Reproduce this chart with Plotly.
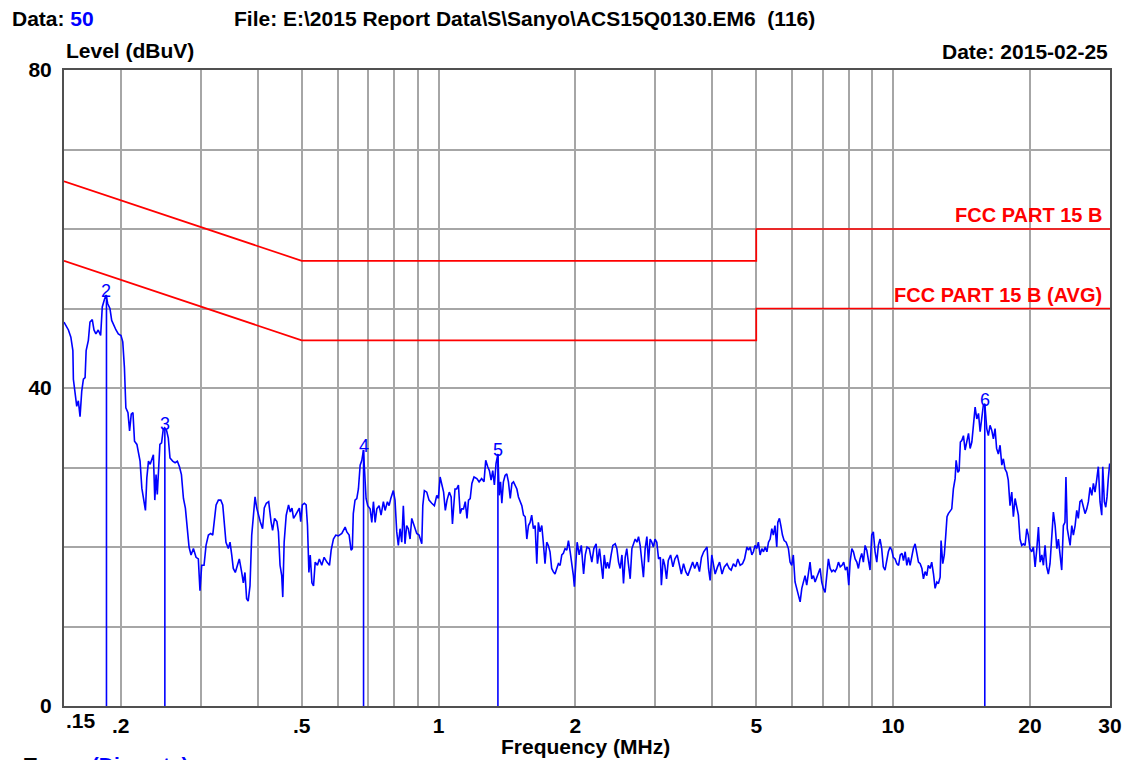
import math
import plotly.graph_objects as go

# ---------------- data ----------------
freq_a = [0.150,0.1534,0.1553,0.1569,0.1573,0.1587,0.160,0.1613,0.1627,0.1641,
          0.1655,0.1669,0.1678,0.1697,0.1711,0.1731,0.1746,0.1763,0.1784,0.1806,
          0.1821,0.1840,0.1856,0.1872,0.1893,0.1910,0.1933,0.1952,0.1975,0.2002,
          0.2020,0.2037,0.2052,0.2074,0.2091,0.2109,0.2127,0.2144,0.2170,0.2187,
          0.2205,0.2225,0.2243,0.2266,0.2282,0.2301,0.2321,0.2341,0.2359,0.2376,
          0.2391,0.2406,0.2422,0.2438,0.2459,0.2480,0.2497,0.2523,0.2544,0.2566,
          0.2601,0.2633,0.2664,0.2692,0.2719,0.2747,0.2774,0.2801,0.2826,0.2855,
          0.2889,0.2928,0.2962,0.2987,0.3013,0.3049,0.3080,0.3117,0.3154,0.3186,
          0.3212,0.3241,0.3279,0.3319,0.3352,0.3373,0.3407,0.3448,0.3478,0.3508,
          0.3536,0.3572,0.3607,0.3645,0.3690,0.3720,0.3751,0.3783,0.3813,0.3848,
          0.3882,0.3914,0.3948,0.3982,0.4015,0.4052,0.4101,0.4137,0.4180,0.4230,
          0.4281,0.4315,0.4358,0.4410,0.4444,0.4481,0.4519,0.4543,0.4575,0.4623,
          0.4678,0.4719,0.4760,0.4798,0.4846,0.4894,0.4942,0.4976,0.5016,0.5069,
          0.5114,0.5149,0.5186,0.5221,0.5266,0.5309,0.5354,0.5415,0.5468,0.5535,
          0.5602,0.5680,0.5756]
level_a = [48.3,47.3,46.4,44.7,41.1,39.6,37.7,38.4,36.4,39.6,
           41.1,41.3,44.7,46.0,48.3,48.6,47.3,46.8,47.3,46.6,
           50.2,51.1,51.7,50.6,50.0,48.5,47.7,47.3,46.8,46.6,
           45.8,42.6,37.5,36.9,34.6,36.7,36.9,33.3,32.9,32.0,
           30.8,27.4,26.1,24.6,28.7,30.8,30.4,31.0,31.6,25.9,
           29.1,26.6,29.5,32.9,33.1,34.8,35.0,34.6,33.7,31.2,
           30.8,30.6,30.8,30.1,29.1,26.1,24.9,22.3,20.0,19.0,
           19.8,18.7,18.5,14.5,17.7,17.7,20.2,21.5,21.7,21.5,
           23.2,25.3,25.9,25.9,25.3,23.2,20.6,19.8,20.6,19.0,
           17.3,16.8,17.5,18.5,16.8,15.5,16.8,13.5,13.2,15.1,
           21.5,23.6,26.3,24.9,24.0,23.2,22.3,24.9,25.5,25.7,
           23.2,22.1,23.6,23.2,21.9,17.7,16.4,13.7,20.6,24.0,
           25.3,24.4,24.9,23.6,24.0,24.4,24.9,23.2,25.3,25.5,
           25.3,22.7,16.8,19.0,15.5,15.1,18.1,17.7,18.5,17.7,
           18.7,18.1,17.7]

freq_b = [0.5805,0.5872,0.5942,0.6019,0.6127,0.6231,0.6285,0.6358,0.6421,0.6462,
          0.6494,0.6551,0.6610,0.6664,0.6723,0.6781,0.6836,0.6894,0.6928,0.6986,
          0.7070,0.7132,0.7191,0.7254,0.7316,0.7401,0.7474,0.7563,0.7629,0.7719,
          0.7785,0.7852,0.7953,0.8021,0.8092,0.8158,0.8229,0.8300,0.8367,0.8438,
          0.8509,0.8580,0.8656,0.8732,0.8848,0.8955,0.9061,0.9187,0.9234,0.9308,
          0.9421,0.9530,0.9663,0.9792,0.9911,0.9990,1.008,1.017,1.026,1.035,
          1.044,1.056,1.066,1.073,1.080,1.087,1.096,1.106,1.116,1.125,
          1.135,1.145,1.155,1.164,1.174,1.184,1.197,1.214,1.228,1.244,
          1.259,1.270,1.283,1.294,1.305,1.316,1.327,1.338,1.351,1.360,
          1.369,1.378,1.389,1.401,1.413,1.425,1.438,1.450,1.462,1.474,
          1.487,1.499,1.512,1.525,1.538,1.551,1.564,1.577,1.590,1.603,
          1.617,1.631,1.645,1.658,1.672,1.687,1.700,1.715,1.730,1.744,
          1.759,1.774,1.788,1.804,1.820,1.835,1.851,1.867,1.882,1.898,
          1.915,1.931,1.948,1.964,1.980,1.990,2.004,2.018,2.039,2.061,
          2.085,2.103,2.121,2.146,2.174,2.196]
level_b = [19.6,21.0,21.5,21.4,21.7,22.5,21.9,21.5,19.6,19.8,
           24.2,25.9,26.1,27.3,30.3,30.9,32.2,28.6,26.1,25.2,
           24.8,23.1,25.7,23.1,24.8,25.2,24.0,25.7,24.6,25.7,
           25.2,26.1,27.1,25.9,21.9,20.2,22.3,20.6,25.2,20.4,
           22.7,22.3,21.0,23.6,22.5,21.7,21.5,20.4,25.2,27.1,
           26.9,25.9,25.5,25.2,26.5,26.1,28.8,27.8,26.9,24.6,
           25.9,26.9,26.3,22.9,25.2,27.3,27.3,27.8,24.2,24.8,
           24.8,25.7,23.6,25.9,26.1,28.0,28.8,28.6,28.2,28.6,
           28.2,30.9,30.1,29.6,28.4,29.6,27.8,30.5,31.7,26.5,
           28.2,25.5,28.2,29.0,29.2,28.2,26.1,28.0,28.2,27.8,
           27.3,26.3,25.7,25.2,24.0,23.8,21.0,22.7,23.1,24.0,
           22.3,22.7,17.9,23.1,21.9,22.7,20.6,17.9,20.6,20.2,
           19.4,17.3,16.9,16.6,17.3,17.9,17.7,19.0,19.2,19.8,
           19.6,20.8,19.4,18.1,16.4,15.0,18.5,20.6,19.0,20.2,
           16.6,19.0,20.0,19.8,18.1,19.8]

freq_c = [2.222,2.237,2.260,2.280,2.299,2.315,2.335,2.353,2.373,2.397,
          2.418,2.447,2.468,2.489,2.510,2.532,2.552,2.574,2.595,2.616,
          2.640,2.663,2.685,2.708,2.732,2.754,2.777,2.800,2.823,2.848,
          2.873,2.896,2.921,2.946,2.969,2.994,3.021,3.048,3.076,3.092,
          3.120,3.146,3.174,3.202,3.240,3.278,3.311,3.350,3.388,3.421,
          3.459,3.498,3.536,3.580,3.623,3.661,3.706,3.750,3.788,3.831,
          3.864,3.896,3.926,3.958,3.991,4.024,4.060,4.109,4.152,4.204,
          4.253,4.311,4.361,4.403,4.453,4.505,4.553,4.608,4.663,4.712,
          4.769,4.808,4.849,4.889,4.928,4.969,5.011,5.053,5.098,5.144,
          5.186,5.231,5.277,5.319,5.364,5.410,5.452,5.497,5.547,5.576,
          5.622,5.663,5.709,5.759,5.817,5.884,5.933,5.983,6.032,6.085,
          6.139,6.190,6.244,6.297,6.348,6.402,6.456,6.507,6.565,6.623,
          6.678,6.736,6.795,6.849,6.908,6.966,7.022,7.085,7.147,7.206,
          7.268,7.331,7.390,7.452,7.516,7.581,7.650,7.720,7.785,7.854,
          7.923,7.988,8.042,8.113,8.179,8.250,8.321,8.388]
level_c = [20.4,17.9,19.8,17.3,16.0,19.0,17.3,18.1,17.3,19.0,
           20.2,20.4,19.8,18.1,17.3,19.0,15.4,18.7,19.8,17.9,
           16.0,19.8,20.4,21.0,20.6,21.3,20.2,18.1,16.2,19.8,
           21.3,18.1,21.0,20.6,20.0,21.0,20.6,18.5,18.7,15.2,
           18.5,17.7,16.0,18.3,19.0,17.5,18.5,19.0,17.9,16.6,
           17.9,16.9,16.4,17.3,18.1,17.3,18.1,16.9,18.7,19.4,
           19.8,20.0,17.3,15.8,19.0,17.9,16.6,17.5,18.1,16.6,
           17.5,17.9,17.3,17.1,17.9,17.5,18.5,17.7,17.9,18.5,
           20.0,19.6,20.0,19.0,19.4,20.2,19.8,20.6,19.0,19.8,
           19.4,20.0,19.4,20.6,21.0,22.3,21.5,22.7,20.0,23.1,
           23.6,22.7,21.5,20.8,20.6,19.8,18.1,17.7,19.0,15.6,
           14.8,13.9,13.1,14.8,15.6,16.4,15.2,16.9,18.1,16.0,
           16.4,15.6,16.2,16.9,17.3,15.6,14.8,14.3,16.4,18.5,
           17.3,16.9,17.1,16.9,17.3,18.1,17.5,17.7,18.1,17.1,
           17.5,15.2,18.1,19.8,19.4,18.5,18.1,17.3]

freq_d = [8.458,8.531,8.602,8.677,8.752,8.823,8.898,8.973,9.047,9.126,
          9.206,9.280,9.360,9.439,9.515,9.599,9.683,9.762,9.847,9.931,
          10.01,10.10,10.19,10.28,10.37,10.46,10.54,10.63,10.72,10.81,
          10.90,10.99,11.08,11.18,11.28,11.37,11.47,11.57,11.66,11.76,
          11.86,11.95,12.06,12.16,12.27,12.37,12.48,12.58,12.69,12.75,
          12.86,12.96,13.05,13.14,13.23,13.35,13.46,13.57,13.69,13.76,
          13.88,13.97,14.06,14.16,14.28,14.40,14.53,14.65,14.77,14.90,
          15.02,15.15,15.28,15.41,15.54,15.66,15.79,15.91,16.07,16.20,
          16.34,16.48,16.62,16.76,16.89,17.04,17.19,17.34,17.48,17.63,
          17.78,17.92,18.08,18.24,18.39,18.55,18.71,18.86,19.02,19.18,
          19.34,19.51,19.68,19.83,20.00,20.18,20.35,20.53,20.71,20.88,
          21.06,21.24,21.41,21.59,21.77,21.95,22.14,22.34,22.52,22.72,
          22.92,23.10,23.30,23.49,23.69,23.88,24.00,24.16,24.38,
          24.51,24.72,24.92,25.14,25.35,25.55,25.77,25.99,26.21,
          26.44,26.67,26.89,27.12,27.36,27.58,27.81,28.04,28.28,
          28.52,28.77,28.92,29.15,29.36,29.55,29.74,29.95]
level_d = [18.5,19.2,18.1,20.2,19.6,18.1,17.1,21.5,21.9,19.4,
           18.1,20.2,21.0,19.8,17.5,17.1,18.5,19.4,20.0,19.6,
           18.7,18.5,17.9,17.7,19.0,19.2,18.3,19.4,17.7,18.7,
           17.7,19.0,19.8,20.4,19.4,18.1,17.9,17.3,16.0,16.9,
           16.4,17.7,17.3,18.1,16.6,14.8,15.6,15.4,16.2,20.8,
           17.9,19.0,21.3,23.8,24.2,24.6,24.8,27.3,28.6,30.9,
           29.4,29.6,33.2,33.4,34.0,32.2,33.4,34.3,32.4,33.2,
           35.3,37.6,36.1,36.8,34.5,36.1,37.8,38.0,34.9,34.0,
           35.3,34.7,33.6,34.9,32.4,31.7,32.8,30.3,31.1,29.8,
           29.4,28.4,25.2,26.9,23.8,26.1,25.0,24.0,21.0,20.2,
           20.4,20.2,22.3,21.5,19.8,19.4,20.0,17.5,19.8,22.5,
           18.1,19.0,17.7,20.2,17.5,16.6,17.9,21.0,24.4,22.7,
           19.8,21.0,19.0,17.1,22.7,23.1,28.8,22.3,21.0,
           20.2,22.7,21.5,22.7,24.6,23.6,25.7,25.9,25.2,
           24.2,24.8,25.7,27.5,26.5,28.0,26.9,28.4,30.1,
           25.7,24.0,30.1,25.7,25.0,26.3,28.6,30.5]

trace_freq = freq_a + freq_b + freq_c + freq_d
trace_level = level_a + level_b + level_c + level_d

# limit lines
limit_freq = [0.15, 0.5, 5.0, 5.0, 30.0]
limit_qp = [66, 56, 56, 60, 60]
limit_avg = [56, 46, 46, 50, 50]
limit_names = ["FCC PART 15 B", "FCC PART 15 B (AVG)"]

# peak markers
marker_no = [2, 3, 4, 5, 6]
marker_freq = [0.186, 0.250, 0.684, 1.351, 15.91]
marker_level = [51.7, 35.0, 32.2, 31.7, 38.0]

# axes
x_grid = [0.2, 0.3, 0.4, 0.5, 0.6, 0.7, 0.8, 0.9, 1, 2, 3, 4, 5, 6, 7, 8, 9, 10, 20, 30]
x_text = [".2", "", "", ".5", "", "", "", "", "1", "2", "", "", "5", "", "", "", "", "10", "20", "30"]
y_grid = [0, 10, 20, 30, 40, 50, 60, 70, 80]
y_text = ["0", "", "", "", "40", "", "", "", "80"]

# ---------------- figure ----------------
FONT = "Liberation Sans, Arial, sans-serif"
BLUE = "#0000ff"
RED = "#ff0000"
W, H = 1128, 760
L, R, T, B = 64, 18, 70, 54
PW, PH = W - L - R, H - T - B

def px(x):   # horizontal pixel -> paper fraction
    return (x - L) / PW

def py(y):   # vertical pixel -> paper fraction
    return (H - B - y) / PH

fig = go.Figure()

mx, my = [], []
for f, l in zip(marker_freq, marker_level):
    mx += [f, f, None]
    my += [0, l, None]
fig.add_trace(go.Scatter(x=mx, y=my, mode="lines", line=dict(color=BLUE, width=1.6),
                         hoverinfo="skip", showlegend=False))

fig.add_trace(go.Scatter(x=limit_freq, y=limit_qp, mode="lines",
                         line=dict(color=RED, width=1.7), showlegend=False))
fig.add_trace(go.Scatter(x=limit_freq, y=limit_avg, mode="lines",
                         line=dict(color=RED, width=1.7), showlegend=False))

fig.add_trace(go.Scatter(x=trace_freq, y=trace_level, mode="lines",
                         line=dict(color=BLUE, width=1.6), showlegend=False))

tick_font = dict(family=FONT, size=21, color="black", weight="bold")
fig.update_xaxes(type="log", range=[math.log10(0.15), math.log10(30)],
                 tickmode="array", tickvals=x_grid, ticktext=x_text,
                 showgrid=True, gridcolor="#a6a6a6", gridwidth=1.6,
                 showline=True, linecolor="#505050", linewidth=2, mirror=True,
                 ticks="", zeroline=False, automargin=False, ticklabelstandoff=0,
                 tickfont=tick_font)
fig.update_yaxes(range=[0, 80], tickmode="array", tickvals=y_grid, ticktext=y_text,
                 showgrid=True, gridcolor="#a6a6a6", gridwidth=1.6,
                 showline=True, linecolor="#505050", linewidth=2, mirror=True,
                 ticks="", zeroline=False, automargin=False, ticklabelstandoff=6,
                 tickfont=tick_font)

bold = dict(family=FONT, size=21, color="black", weight="bold")
ann = []
ann.append(dict(xref="x", yref="paper", x=math.log10(0.15), y=0, text=".15", showarrow=False,
                xanchor="left", yanchor="top", yshift=-1, font=tick_font))
# header texts
ann.append(dict(xref="paper", yref="paper", x=px(10), y=py(18),
                text="Data: <span style='color:#0000ff'>50</span>", showarrow=False,
                xanchor="left", yanchor="middle", font=bold))
ann.append(dict(xref="paper", yref="paper", x=px(232), y=py(18),
                text="File: E:\\2015 Report Data\\S\\Sanyo\\ACS15Q0130.EM6 \u00a0(116)", showarrow=False,
                xanchor="left", yanchor="middle", font=bold))
ann.append(dict(xref="paper", yref="paper", x=0, y=py(50),
                text="Level (dBuV)", showarrow=False,
                xanchor="left", yanchor="middle", font=bold))
ann.append(dict(xref="paper", yref="paper", x=1, y=py(52),
                text="Date: 2015-02-25", showarrow=False,
                xanchor="right", yanchor="middle", font=bold))
ann.append(dict(xref="paper", yref="paper", x=px(585), y=py(746),
                text="Frequency (MHz)", showarrow=False,
                xanchor="center", yanchor="middle", font=bold))
ann.append(dict(xref="paper", yref="paper", x=px(22), y=py(751),
                text="Trace: <span style='color:#0000ff'>(Discrete)</span>", showarrow=False,
                xanchor="left", yanchor="top", font=bold))
# limit labels
for name, lim in zip(limit_names, [limit_qp, limit_avg]):
    ann.append(dict(x=math.log10(limit_freq[-1]), y=lim[-1], text=name, showarrow=False,
                    xanchor="right", yanchor="bottom", xshift=-6, yshift=1,
                    font=dict(family=FONT, size=20, color=RED, weight="bold")))
# marker labels
for n, f, l in zip(marker_no, marker_freq, marker_level):
    ann.append(dict(x=math.log10(f), y=l, text=str(n), showarrow=False,
                    xanchor="center", yanchor="middle", yshift=4,
                    font=dict(family=FONT, size=18, color=BLUE)))

fig.update_layout(width=W, height=H, margin=dict(l=L, r=R, t=T, b=B, autoexpand=False),
                  paper_bgcolor="white", plot_bgcolor="white",
                  showlegend=False, hovermode=False, annotations=ann)

fig.write_html("out.html", config={"displayModeBar": False},
               post_script="document.body.style.margin='0';document.body.style.overflow='hidden';")
